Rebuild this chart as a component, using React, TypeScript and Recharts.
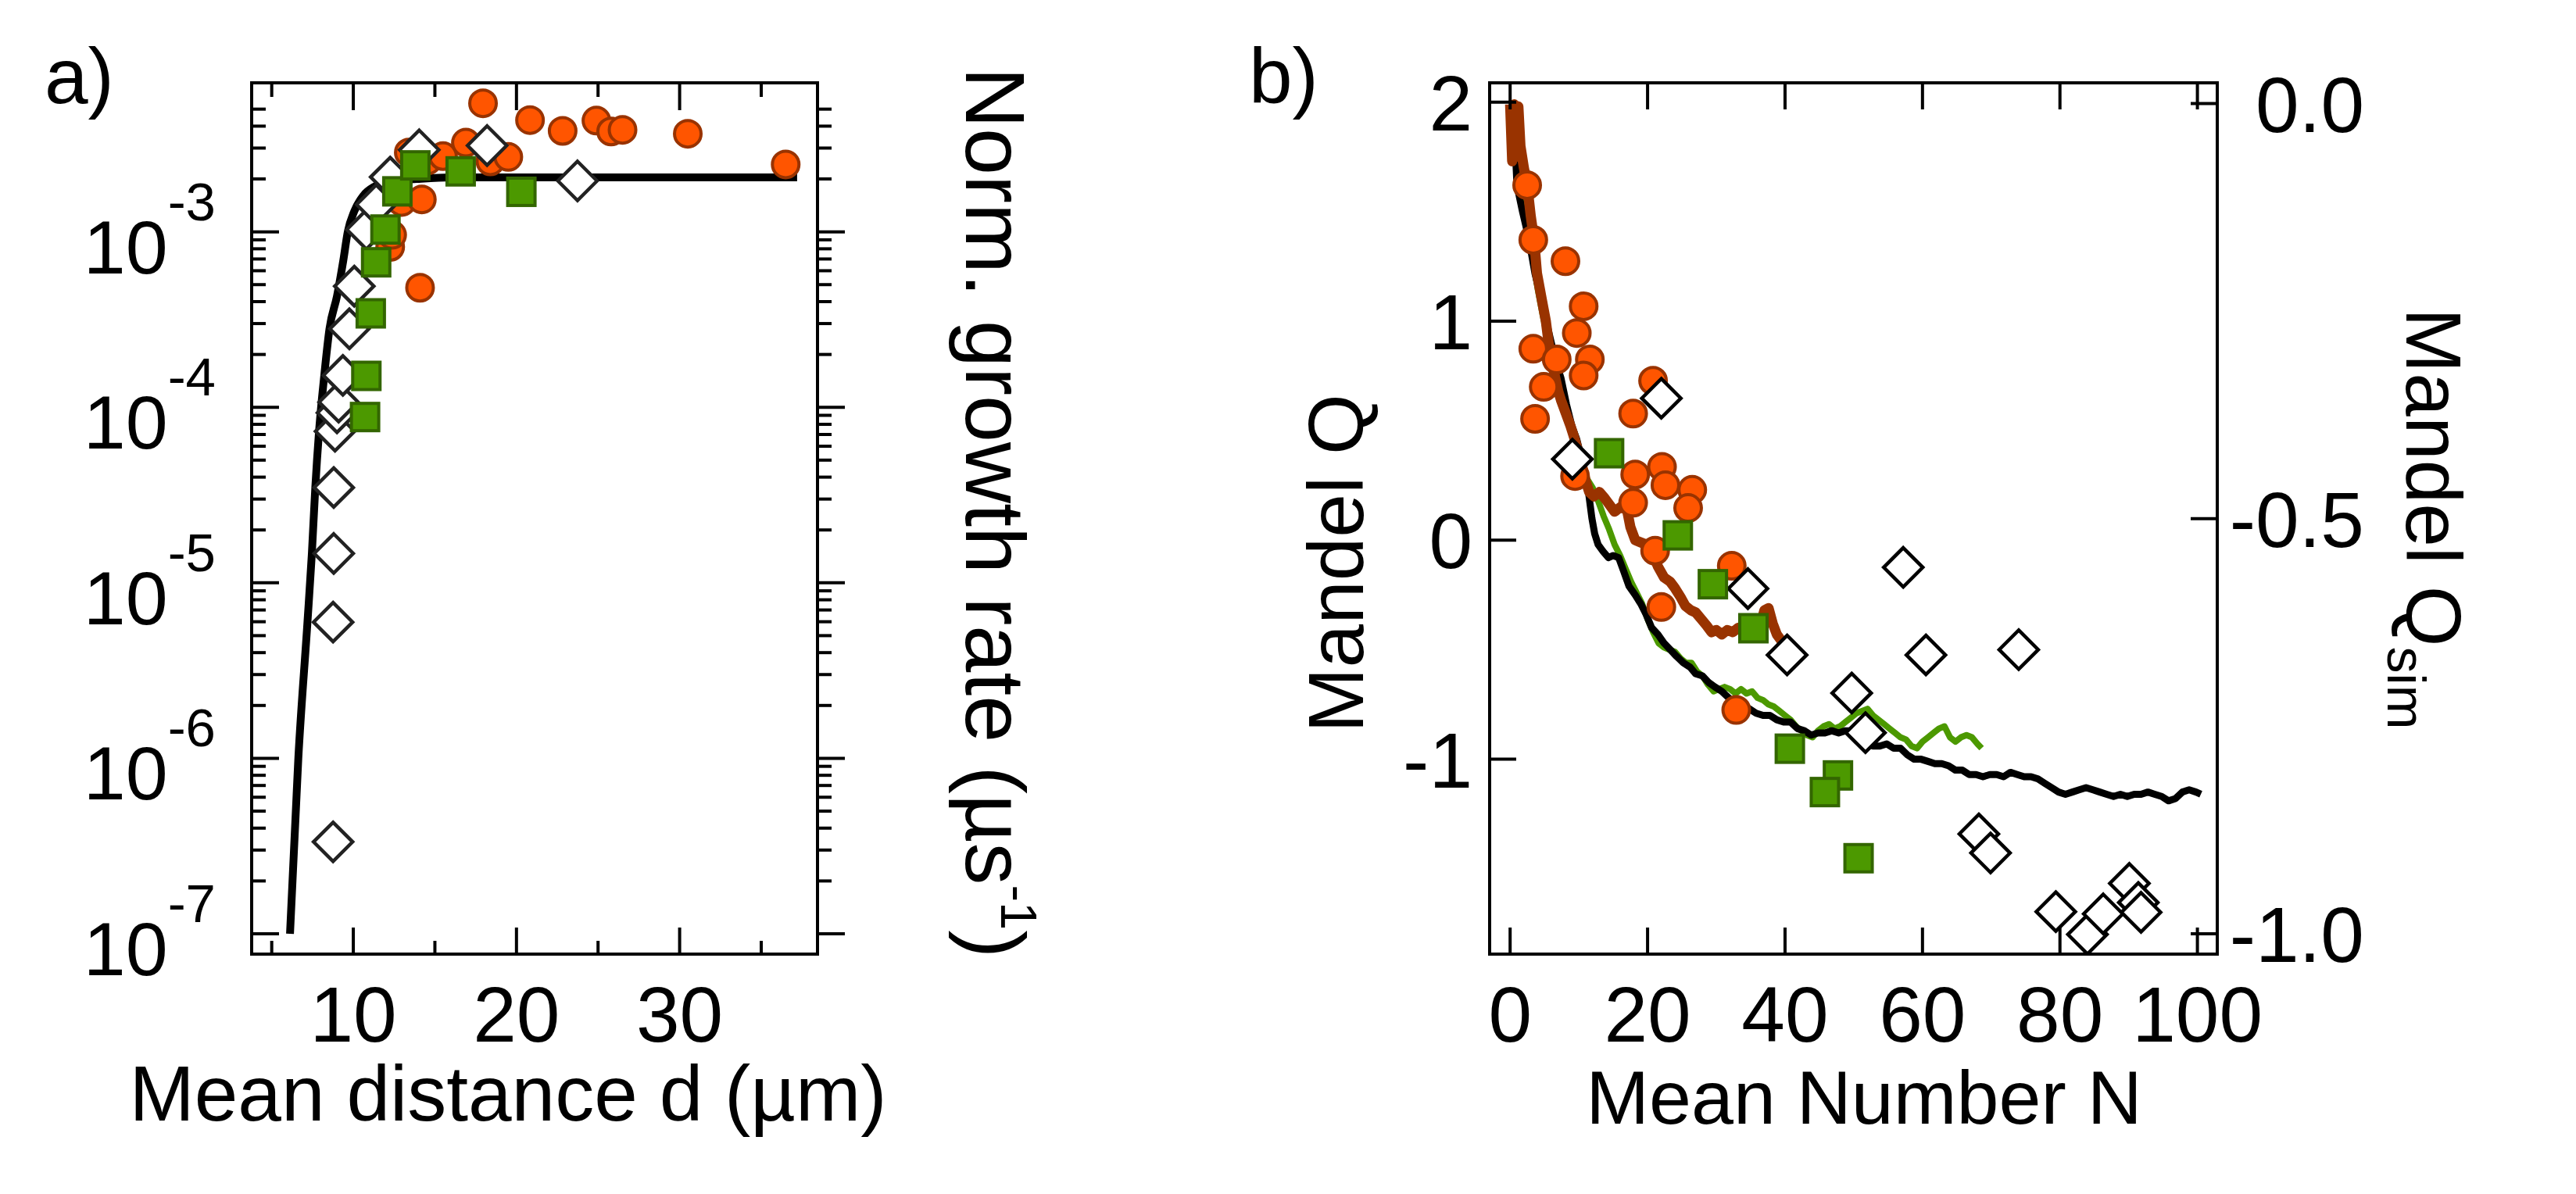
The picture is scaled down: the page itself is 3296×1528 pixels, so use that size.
import React from 'react';
import { ComposedChart, Line, Scatter, XAxis, YAxis } from 'recharts';

const FONT = '"Liberation Sans", Arial, Helvetica, sans-serif';

// ---------------- Panel a data ----------------
const aCurve = [
  [6.12, 1.0e-7], [6.63, 1.0e-6], [7.19, 5.97e-6], [7.46, 1.47e-5], [7.67, 3.49e-5],
  [7.9, 7.3e-5], [8.22, 1.52e-4], [8.54, 2.8e-4], [9.0, 4.3e-4], [9.39, 6.9e-4],
  [9.66, 1.0e-3], [10.06, 1.31e-3], [10.62, 1.61e-3], [11.34, 1.82e-3], [12.3, 1.95e-3],
  [13.9, 2.0e-3], [16.0, 2.04e-3], [37.2, 2.04e-3],
];
const aCircleD = [12.26, 12.38, 12.97, 14.2, 14.09, 13.4, 14.55, 15.5, 16.9, 18.4, 19.5, 17.95, 20.83, 22.83, 24.9, 25.8, 26.5, 30.5, 36.5];
const aCircleRate = [8.2e-4, 9.6e-4, 1.48e-3, 1.53e-3, 4.8e-4, 2.83e-3, 2.55e-3, 2.7e-3, 3.22e-3, 2.52e-3, 2.67e-3, 5.4e-3, 4.33e-3, 3.76e-3, 4.3e-3, 3.73e-3, 3.81e-3, 3.62e-3, 2.42e-3];
const aSquareD = [10.72, 10.8, 11.07, 11.4, 11.97, 12.7, 13.8, 16.58, 20.3];
const aSquareRate = [8.8e-5, 1.51e-4, 3.43e-4, 6.7e-4, 1.03e-3, 1.7e-3, 2.39e-3, 2.21e-3, 1.69e-3];
const aDiamondD = [8.76, 8.76, 8.8, 8.8, 8.88, 9.0, 9.1, 9.36, 9.76, 10.06, 10.8, 11.4, 12.26, 14.04, 18.2, 23.74];
const aDiamondRate = [3.34e-7, 5.97e-6, 1.47e-5, 3.49e-5, 7.3e-5, 9.3e-5, 1.07e-4, 1.52e-4, 2.8e-4, 4.9e-4, 1.03e-3, 1.43e-3, 2.05e-3, 2.93e-3, 3.1e-3, 1.95e-3];

const aXMajor = [10, 20, 30];
const aXMinor = [5, 15, 25, 35];
const aYMajor = [1e-7, 1e-6, 1e-5, 1e-4, 1e-3];
const aYExponent = ['-7', '-6', '-5', '-4', '-3'];
const aYMinor = [
  2e-7, 3e-7, 4e-7, 5e-7, 6e-7, 7e-7, 8e-7, 9e-7,
  2e-6, 3e-6, 4e-6, 5e-6, 6e-6, 7e-6, 8e-6, 9e-6,
  2e-5, 3e-5, 4e-5, 5e-5, 6e-5, 7e-5, 8e-5, 9e-5,
  2e-4, 3e-4, 4e-4, 5e-4, 6e-4, 7e-4, 8e-4, 9e-4,
  2e-3, 3e-3, 4e-3, 5e-3,
];

// ---------------- Panel b data ----------------
const bCircleN = [2.48, 3.37, 8.05, 10.7, 9.7, 3.37, 6.78, 11.6, 10.7, 4.89, 3.63, 20.8, 17.9, 9.45, 18.2, 22.1, 22.6, 26.5, 25.9, 17.9, 21.1, 32.25, 22.0, 32.9];
const bCircleQ = [1.621, 1.371, 1.274, 1.068, 0.946, 0.874, 0.825, 0.825, 0.752, 0.7, 0.554, 0.728, 0.578, 0.293, 0.3, 0.335, 0.251, 0.23, 0.147, 0.171, -0.048, -0.117, -0.305, -0.775];
const bSquareN = [14.4, 24.4, 29.5, 35.4, 40.7, 47.7, 45.8, 50.7];
const bSquareQ = [0.397, 0.022, -0.201, -0.402, -0.952, -1.074, -1.15, -1.452];
const bDiamondN = [9.06, 22.0, 34.6, 57.2, 40.3, 60.5, 74.0, 49.7, 51.7, 68.2, 69.9, 79.4, 84.0, 86.3, 90.1, 91.4, 91.8];
const bDiamondQ = [0.37, 0.648, -0.221, -0.124, -0.524, -0.524, -0.5, -0.698, -0.879, -1.341, -1.428, -1.696, -1.8, -1.706, -1.567, -1.654, -1.699];

const bBlackLine = [
  [0.5, 1.95], [1.0, 1.62], [1.8, 1.5], [2.7, 1.38], [3.6, 1.22], [4.3, 1.13], [5.1, 1.02], [6.0, 0.9], [6.8, 0.8], [7.4, 0.74],
  [8.2, 0.62], [9.0, 0.52], [9.7, 0.46], [10.5, 0.36], [11.4, 0.22], [11.9, 0.1], [12.3, 0.03], [12.8, -0.02], [13.5, -0.05], [14.3, -0.08],
  [15.0, -0.07], [15.8, -0.08], [16.5, -0.14], [17.3, -0.21], [18.2, -0.25], [19.0, -0.29], [19.8, -0.34], [20.6, -0.4], [21.5, -0.43], [22.4, -0.47],
  [23.3, -0.5], [24.2, -0.53], [25.2, -0.56], [26.2, -0.58], [27.0, -0.61], [28.0, -0.62], [28.9, -0.65], [29.8, -0.67], [30.8, -0.69], [31.8, -0.72],
  [32.7, -0.74], [33.8, -0.75], [34.8, -0.77], [35.8, -0.79], [36.8, -0.8], [37.8, -0.8], [38.8, -0.82], [39.8, -0.83], [40.8, -0.83], [41.8, -0.86],
  [42.8, -0.87], [43.8, -0.89], [44.8, -0.88], [45.8, -0.88], [46.8, -0.87], [47.8, -0.88], [48.8, -0.87], [49.8, -0.87], [50.8, -0.89], [51.8, -0.91],
  [52.8, -0.94], [53.8, -0.94], [54.8, -0.93], [55.8, -0.95], [56.8, -0.95], [57.8, -0.98], [58.8, -1.0], [59.8, -1.0], [60.8, -1.01], [61.8, -1.02],
  [62.8, -1.02], [63.8, -1.03], [64.8, -1.05], [65.8, -1.05], [66.8, -1.07], [67.8, -1.07], [68.8, -1.08], [69.8, -1.07], [70.8, -1.07], [71.8, -1.08],
  [72.8, -1.06], [73.8, -1.07], [74.8, -1.08], [75.8, -1.08], [76.8, -1.09], [77.8, -1.11], [78.8, -1.13], [79.8, -1.15], [80.8, -1.16], [81.8, -1.15],
  [82.8, -1.14], [83.8, -1.13], [84.8, -1.14], [85.8, -1.15], [86.8, -1.16], [87.8, -1.17], [88.8, -1.16], [89.8, -1.17], [90.8, -1.16], [91.8, -1.16],
  [92.8, -1.15], [93.8, -1.16], [94.8, -1.17], [95.8, -1.19], [96.8, -1.18], [97.8, -1.15], [98.8, -1.14], [99.8, -1.15], [100.5, -1.16],
];
const bGreenLine = [
  [0.6, 1.98], [1.0, 1.85], [1.6, 1.62], [2.4, 1.45], [3.2, 1.3], [4.0, 1.15], [4.8, 1.02], [5.6, 0.9], [6.4, 0.8], [7.2, 0.7],
  [8.0, 0.58], [8.8, 0.5], [9.6, 0.42], [10.4, 0.34], [11.2, 0.28], [12.0, 0.24], [12.8, 0.18], [13.6, 0.11], [14.4, 0.05], [15.2, -0.02],
  [16.0, -0.07], [16.8, -0.13], [17.6, -0.19], [18.4, -0.24], [19.2, -0.29], [20.0, -0.36], [20.8, -0.42], [21.6, -0.47], [22.4, -0.49], [23.2, -0.5],
  [24.0, -0.51], [24.8, -0.54], [25.6, -0.56], [26.4, -0.56], [27.2, -0.6], [28.0, -0.62], [28.8, -0.66], [29.6, -0.69], [30.4, -0.68], [31.2, -0.67],
  [32.0, -0.68], [32.8, -0.7], [33.6, -0.68], [34.4, -0.7], [35.2, -0.69], [36.0, -0.72], [36.8, -0.73], [37.6, -0.75], [38.4, -0.76], [39.2, -0.78],
  [40.0, -0.8], [40.8, -0.82], [41.6, -0.85], [42.4, -0.87], [43.2, -0.89], [44.0, -0.9], [44.8, -0.87], [45.6, -0.85], [46.4, -0.84], [47.2, -0.86],
  [48.0, -0.85], [48.8, -0.83], [49.6, -0.81], [50.4, -0.79], [51.2, -0.78], [52.0, -0.77], [52.8, -0.8], [53.6, -0.82], [54.4, -0.84], [55.2, -0.86],
  [56.0, -0.88], [56.8, -0.9], [57.6, -0.91], [58.4, -0.94], [59.2, -0.95], [60.0, -0.92], [60.8, -0.9], [61.6, -0.88], [62.4, -0.86], [63.2, -0.85],
  [64.0, -0.9], [64.8, -0.92], [65.6, -0.9], [66.4, -0.89], [67.2, -0.9], [68.0, -0.93], [68.6, -0.95],
];
const bBrownLine = [
  [0.0, 1.99], [0.3, 1.73], [0.6, 1.99], [0.9, 1.75], [1.2, 1.98], [1.5, 1.8], [2.0, 1.7], [2.5, 1.62], [3.0, 1.48], [3.5, 1.37],
  [3.9, 1.22], [4.6, 1.1], [5.2, 1.0], [5.6, 0.9], [6.3, 0.78], [7.0, 0.68], [7.4, 0.64], [8.1, 0.58], [8.8, 0.52], [9.5, 0.45],
  [10.3, 0.36], [11.0, 0.27], [11.5, 0.22], [12.2, 0.2], [13.0, 0.22], [13.8, 0.19], [14.5, 0.16], [15.2, 0.13], [16.0, 0.15], [17.0, 0.14],
  [17.5, 0.06], [18.2, 0.0], [19.0, -0.01], [19.8, -0.02], [20.6, -0.05], [21.5, -0.12], [22.4, -0.17], [23.3, -0.19], [24.0, -0.22], [24.8, -0.26],
  [25.5, -0.3], [26.3, -0.32], [27.0, -0.33], [27.8, -0.36], [28.6, -0.39], [29.3, -0.42], [30.0, -0.41], [30.8, -0.43], [31.6, -0.41], [32.4, -0.42],
  [33.2, -0.4], [34.0, -0.42], [34.8, -0.41], [35.6, -0.42], [36.4, -0.39], [37.0, -0.32], [37.6, -0.31], [38.2, -0.38], [38.8, -0.43], [39.5, -0.46],
  [40.0, -0.47],
];

const bXTicks = [0, 20, 40, 60, 80, 100];
const bYLeftTicks = [2, 1, 0, -1];
const bYRightTicks = [0, -0.5, -1];
const bYRightLabels = ['0.0', '-0.5', '-1.0'];

// ---------------- helpers ----------------
const pairs = (xs: number[], ys: number[]) => xs.map((x, i) => ({ x, y: ys[i] }));
const linePts = (arr: number[][]) => arr.map(([x, y]) => ({ x, y }));

const aCurveData = linePts(aCurve);
const aCircles = pairs(aCircleD, aCircleRate);
const aSquares = pairs(aSquareD, aSquareRate);
const aDiamonds = pairs(aDiamondD, aDiamondRate);
const bCircles = pairs(bCircleN, bCircleQ);
const bSquares = pairs(bSquareN, bSquareQ);
const bDiamonds = pairs(bDiamondN, bDiamondQ);

const OrangeCircle = (p: any) => (
  <circle cx={p.cx} cy={p.cy} r={17} fill="#FF5500" stroke="#993300" strokeWidth={4} />
);
const GreenSquare = (p: any) => (
  <rect x={p.cx - 17.5} y={p.cy - 17.5} width={35} height={35} fill="#4C9900" stroke="#336600" strokeWidth={4} />
);
const makeDiamond = (color: string) => (p: any) => (
  <path
    d={`M${p.cx},${p.cy - 25}L${p.cx + 25},${p.cy}L${p.cx},${p.cy + 25}L${p.cx - 25},${p.cy}Z`}
    fill="#fff"
    stroke={color}
    strokeWidth={4.5}
  />
);
const GreyDiamond = makeDiamond('#222');
const BlackDiamond = makeDiamond('#000');

const TW = 4;

// panel a ticks
const aLeftTick = (p: any) => {
  const i = aYMajor.indexOf(p.payload.value);
  const major = i >= 0;
  return (
    <g>
      <line x1={p.x} y1={p.y} x2={p.x + (major ? 35 : 18)} y2={p.y} stroke="#000" strokeWidth={TW} />
      {major && (
        <text x={p.x - 46} y={p.y + 53} textAnchor="end" fontFamily={FONT} fill="#000">
          <tspan fontSize={97}>10</tspan>
          <tspan fontSize={69} dy={-68}>{aYExponent[i]}</tspan>
        </text>
      )}
    </g>
  );
};
const aRightTick = (p: any) => {
  const major = aYMajor.includes(p.payload.value);
  return <line x1={p.x} y1={p.y} x2={p.x + (major ? 35 : 18)} y2={p.y} stroke="#000" strokeWidth={TW} />;
};
const aBottomTick = (p: any) => {
  const v = p.payload.value;
  const major = aXMajor.includes(v);
  return (
    <g>
      <line x1={p.x} y1={p.y} x2={p.x} y2={p.y - (major ? 34 : 17)} stroke="#000" strokeWidth={TW} />
      {major && (
        <text x={p.x} y={p.y + 112} textAnchor="middle" fontFamily={FONT} fontSize={100} fill="#000">
          {v}
        </text>
      )}
    </g>
  );
};
const aTopTick = (p: any) => {
  const major = aXMajor.includes(p.payload.value);
  return <line x1={p.x} y1={p.y} x2={p.x} y2={p.y + (major ? 35 : 18)} stroke="#000" strokeWidth={TW} />;
};

// panel b ticks
const bLeftTick = (p: any) => (
  <g>
    <line x1={p.x} y1={p.y} x2={p.x + 34} y2={p.y} stroke="#000" strokeWidth={TW} />
    <text x={p.x - 22} y={p.y + 36} textAnchor="end" fontFamily={FONT} fontSize={100} fill="#000">
      {p.payload.value}
    </text>
  </g>
);
const bRightTick = (p: any) => {
  const i = bYRightTicks.indexOf(p.payload.value);
  return (
    <g>
      <line x1={p.x} y1={p.y} x2={p.x - 34} y2={p.y} stroke="#000" strokeWidth={TW} />
      <text x={p.x + 188} y={p.y + 36} textAnchor="end" fontFamily={FONT} fontSize={100} fill="#000">
        {bYRightLabels[i]}
      </text>
    </g>
  );
};
const bBottomTick = (p: any) => (
  <g>
    <line x1={p.x} y1={p.y} x2={p.x} y2={p.y - 34} stroke="#000" strokeWidth={TW} />
    <text x={p.x} y={p.y + 112} textAnchor="middle" fontFamily={FONT} fontSize={100} fill="#000">
      {p.payload.value}
    </text>
  </g>
);
const bTopTick = (p: any) => (
  <line x1={p.x} y1={p.y} x2={p.x} y2={p.y + 34} stroke="#000" strokeWidth={TW} />
);

const axisLine = { stroke: '#000', strokeWidth: 4, strokeLinecap: 'square' as const };

function PanelA() {
  return (
    <ComposedChart width={1560} height={1528} margin={{ top: 56, right: 414, bottom: 157, left: 122 }}>
      <XAxis
        xAxisId="bottom" dataKey="x" type="number" orientation="bottom" height={150}
        domain={[3.77, 38.45]} allowDataOverflow ticks={[...aXMajor, ...aXMinor]} interval={0}
        tick={aBottomTick} tickLine={false} tickSize={0} tickMargin={0} axisLine={axisLine}
      />
      <XAxis
        xAxisId="top" dataKey="x" type="number" orientation="top" height={50}
        domain={[3.77, 38.45]} allowDataOverflow ticks={[...aXMajor, ...aXMinor]} interval={0}
        tick={aTopTick} tickLine={false} tickSize={0} tickMargin={0} axisLine={axisLine}
      />
      <YAxis
        yAxisId="left" dataKey="y" type="number" scale="log" orientation="left" width={200}
        domain={[7.66e-8, 7.06e-3]} allowDataOverflow ticks={[...aYMajor, ...aYMinor]} interval={0}
        tick={aLeftTick} tickLine={false} tickSize={0} tickMargin={0} axisLine={axisLine}
      />
      <YAxis
        yAxisId="right" dataKey="y" type="number" scale="log" orientation="right" width={100}
        domain={[7.66e-8, 7.06e-3]} allowDataOverflow ticks={[...aYMajor, ...aYMinor]} interval={0}
        tick={aRightTick} tickLine={false} tickSize={0} tickMargin={0} axisLine={axisLine}
      />
      <Line
        data={aCurveData} dataKey="y" xAxisId="bottom" yAxisId="left" type="monotone"
        stroke="#000" strokeWidth={10} dot={false} activeDot={false} isAnimationActive={false}
      />
      <Scatter data={aCircles} xAxisId="bottom" yAxisId="left" shape={OrangeCircle} isAnimationActive={false} />
      <Scatter data={aDiamonds} xAxisId="bottom" yAxisId="left" shape={GreyDiamond} isAnimationActive={false} />
      <Scatter data={aSquares} xAxisId="bottom" yAxisId="left" shape={GreenSquare} isAnimationActive={false} />
    </ComposedChart>
  );
}

function PanelB() {
  return (
    <ComposedChart width={1736} height={1528} margin={{ top: 56, right: 259, bottom: 157, left: 146 }}>
      <XAxis
        xAxisId="bottom" dataKey="x" type="number" orientation="bottom" height={150}
        domain={[-2.98, 102.89]} allowDataOverflow ticks={bXTicks} interval={0}
        tick={bBottomTick} tickLine={false} tickSize={0} tickMargin={0} axisLine={axisLine}
      />
      <XAxis
        xAxisId="top" dataKey="x" type="number" orientation="top" height={50}
        domain={[-2.98, 102.89]} allowDataOverflow ticks={bXTicks} interval={0}
        tick={bTopTick} tickLine={false} tickSize={0} tickMargin={0} axisLine={axisLine}
      />
      <YAxis
        yAxisId="left" dataKey="y" type="number" orientation="left" width={200}
        domain={[-1.8898, 2.0881]} allowDataOverflow ticks={bYLeftTicks} interval={0}
        tick={bLeftTick} tickLine={false} tickSize={0} tickMargin={0} axisLine={axisLine}
      />
      <YAxis
        yAxisId="right" dataKey="y" type="number" orientation="right" width={200}
        domain={[-1.0245, 0.025]} allowDataOverflow ticks={bYRightTicks} interval={0}
        tick={bRightTick} tickLine={false} tickSize={0} tickMargin={0} axisLine={axisLine}
      />
      <Line
        data={linePts(bGreenLine)} dataKey="y" xAxisId="bottom" yAxisId="left" type="linear"
        stroke="#4C9900" strokeWidth={8} strokeLinejoin="round" dot={false} activeDot={false} isAnimationActive={false}
      />
      <Line
        data={linePts(bBlackLine)} dataKey="y" xAxisId="bottom" yAxisId="left" type="linear"
        stroke="#000" strokeWidth={9} strokeLinejoin="round" dot={false} activeDot={false} isAnimationActive={false}
      />
      <Line
        data={linePts(bBrownLine)} dataKey="y" xAxisId="bottom" yAxisId="left" type="linear"
        stroke="#993300" strokeWidth={13} strokeLinejoin="round" dot={false} activeDot={false} isAnimationActive={false}
      />
      <Scatter data={bCircles} xAxisId="bottom" yAxisId="left" shape={OrangeCircle} isAnimationActive={false} />
      <Scatter data={bDiamonds} xAxisId="bottom" yAxisId="left" shape={BlackDiamond} isAnimationActive={false} />
      <Scatter data={bSquares} xAxisId="bottom" yAxisId="left" shape={GreenSquare} isAnimationActive={false} />
    </ComposedChart>
  );
}

export default function App() {
  return (
    <div style={{ position: 'absolute', left: 0, top: 0, width: 3296, height: 1528, background: '#fff', overflow: 'hidden' }}>
      <div style={{ position: 'absolute', left: 0, top: 0 }}>
        <PanelA />
      </div>
      <div style={{ position: 'absolute', left: 1560, top: 0 }}>
        <PanelB />
      </div>
      <svg style={{ position: 'absolute', left: 0, top: 0, pointerEvents: 'none' }} width={3296} height={1528}>
        <g fontFamily={FONT} fill="#000">
          <text x={57} y={132} fontSize={100}>a)</text>
          <text x={1598} y={132} fontSize={100}>b)</text>
          <text x={650} y={1434} fontSize={100} textAnchor="middle">Mean distance d (µm)</text>
          <text x={2385} y={1438} fontSize={97} textAnchor="middle">Mean Number N</text>
          <text x={1236} y={86} fontSize={108} transform="rotate(90 1236 86)">
            <tspan>Norm. growth rate (µs</tspan>
            <tspan fontSize={65} dy={-45}>-1</tspan>
            <tspan dy={45}>)</tspan>
          </text>
          <text x={1744} y={721} fontSize={100} textAnchor="middle" transform="rotate(-90 1744 721)">Mandel Q</text>
          <text x={3079} y={394} fontSize={100} transform="rotate(90 3079 394)">
            <tspan>Mandel Q</tspan>
            <tspan fontSize={68} dy={24}>sim</tspan>
          </text>
        </g>
      </svg>
    </div>
  );
}
